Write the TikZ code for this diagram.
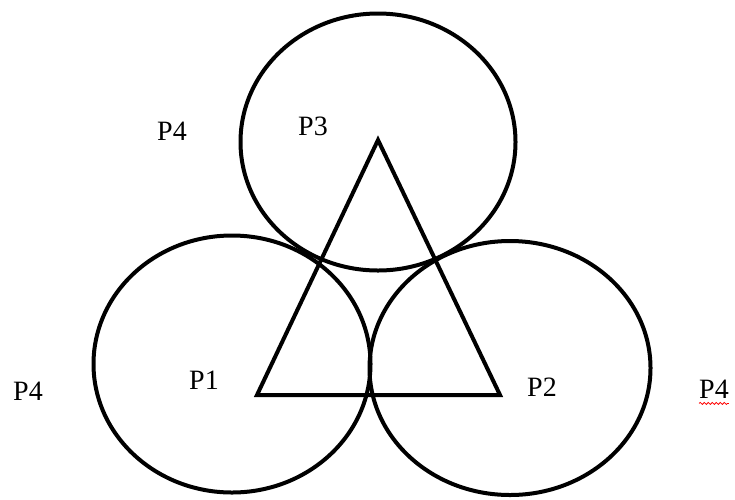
\documentclass[tikz,border=0pt]{standalone}
\usepackage{fontspec}
\setmainfont{Liberation Serif}
\usetikzlibrary{shapes.geometric, decorations.pathmorphing}

\begin{document}
\begin{tikzpicture}[
            x=1pt, y=-1pt,
            ring/.style={
                ellipse, draw=black, line width=4pt,
                inner sep=0pt
            },
            plabel/.style={
                font=\fontsize{28}{30}\selectfont, inner sep=0pt
            },
            side/.style={line width=4pt, line join=miter}
        ]
            \useasboundingbox (0,0) rectangle (735,499);
            % the three circles
            \node[ring, minimum width=275pt, minimum height=257pt] (c3) at (378,142) {};
            \node[ring, minimum width=277pt, minimum height=257pt] (c1) at (232,364) {};
            \node[ring, minimum width=281pt, minimum height=254pt] (c2) at (510,368) {};
            % triangle corners
            \coordinate (v3) at (378,140);
            \coordinate (v1) at (257,395);
            \coordinate (v2) at (500,395);
            \draw[side] (v1) -- (v2) -- (v3) -- cycle;
            % labels
            \node[plabel] (p3) at (313,126) {P3};
            \node[plabel] (p1) at (204,380) {P1};
            \node[plabel] (p2) at (542,387) {P2};
            \node[plabel] (p4top) at (172,131) {P4};
            \node[plabel] (p4left) at (28,391) {P4};
            \node[plabel] (p4right) at (714,389) {P4};
            \draw[red, line width=0.8pt,
                decorate, decoration={snake, amplitude=1pt, segment length=4pt}]
                ([yshift=-5pt]p4right.south west) -- ([yshift=-5pt]p4right.south east);
        \end{tikzpicture}
\end{document}
